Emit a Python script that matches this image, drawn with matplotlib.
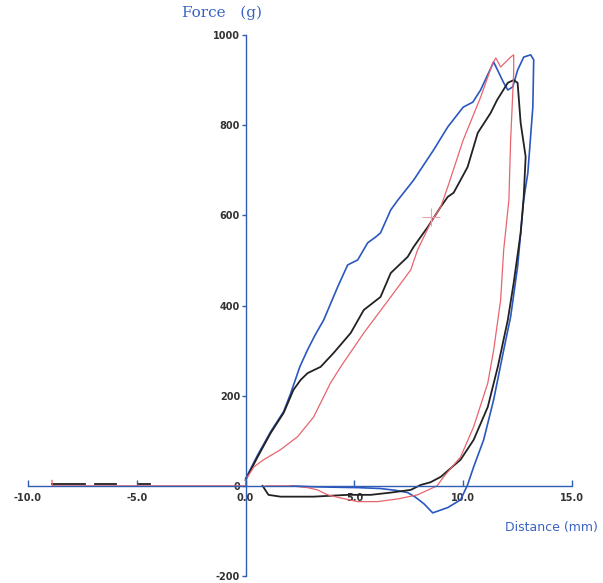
import numpy as np
import matplotlib
matplotlib.use("Agg")
import matplotlib.pyplot as plt

# Force (g) vs distance (mm), three compression cycles
blue_x = [0.0, 0.55, 1.15, 1.75, 2.07, 2.5, 2.85, 3.2, 3.59, 4.23, 4.69, 5.15, 5.61, 5.98, 6.2,
          6.67, 7.0, 7.72, 8.64, 9.29, 10.0, 10.44, 10.8, 11.4, 11.86, 12.05, 12.28, 12.5, 12.78,
          13.1, 13.24, 13.2, 12.97, 12.78, 12.5, 12.18, 11.86, 11.4, 10.94, 10.48, 10.2, 9.88,
          9.3, 8.6, 8.2, 7.8, 7.45, 6.9, 6.2, 5.2, 4.0, 3.0, 2.07]
blue_f = [16, 68, 120, 165, 205, 265, 302, 335, 368, 441, 490, 501, 539, 552, 561,
          612, 634, 678, 745, 796, 840, 851, 878, 940, 894, 878, 885, 922, 951,
          956, 945, 840, 694, 634, 486, 375, 301, 191, 102, 42, 2, -31,
          -48, -60, -40, -25, -15, -10, -6, -4, -3, -2, 0]

black_x = [0.0, 0.55, 1.15, 1.75, 2.2, 2.53, 2.85, 3.45, 4.05, 4.83, 5.43, 6.2, 6.67, 7.45,
           7.72, 8.37, 8.97, 9.29, 9.56, 10.2, 10.67, 11.26, 11.56, 12.05, 12.32, 12.5, 12.64,
           12.87, 12.78, 12.64, 12.32, 12.05, 11.59, 11.13, 10.48, 9.88, 8.97, 8.5, 8.05, 7.59,
           6.67, 5.75, 4.69, 3.13, 1.6, 1.05, 0.78]
black_f = [13, 64, 117, 162, 213, 235, 250, 264, 295, 339, 390, 419, 472, 508,
           530, 574, 619, 641, 650, 707, 783, 827, 856, 894, 900, 894, 805,
           730, 640, 561, 450, 368, 264, 175, 102, 58, 20, 8, 2, -9,
           -15, -20, -20, -24, -24, -20, 0]

# short pre-test bits on the negative side
black_pre_x = [-8.9, -7.4, np.nan, -6.9, -5.95, np.nan, -4.9, -4.4]
black_pre_f = [4, 4, np.nan, 4, 4, np.nan, 4, 4]

red_x = [-8.9, -8.88, 0.0, 0.0, 0.38, 0.83, 1.6, 2.39, 3.13, 3.9, 4.37, 5.43, 6.67, 7.59, 7.9,
         8.5, 8.97, 9.29, 10.0, 10.8, 11.36, 11.5, 11.72, 12.18, 12.32, 12.32, 12.18, 12.1,
         11.86, 11.72, 11.4, 11.13, 10.48, 9.88, 9.1, 8.8, 7.9, 7.0, 6.07, 5.15, 4.37, 3.77,
         3.3, 2.85, 2.07, 0.9]
red_f = [12, 0, 0, 13, 42, 58, 80, 109, 153, 228, 264, 339, 419, 479, 523,
         583, 619, 663, 767, 862, 938, 949, 929, 951, 956, 916, 767, 634,
         523, 412, 301, 228, 131, 64, 20, 0, -20, -29, -35, -35, -27, -20,
         -9, -4, 0, 0]

cross_x, cross_f = [8.5], [597]

xticks = [-10, -5, 0, 5, 10, 15]
xtick_labels = ["-10.0", "-5.0", "0.0", "5.0", "10.0", "15.0"]
yticks = [-200, 0, 200, 400, 600, 800, 1000]

axis_blue = "#2f5cb5"
fig = plt.figure(figsize=(6.03, 5.83), dpi=100)
ax = fig.add_axes([28 / 603, 7 / 583, 544 / 603, 541 / 583])

ax.plot(blue_x, blue_f, color="#2a57c0", lw=1.2)
ax.plot(black_x, black_f, color="#222222", lw=1.3)
ax.plot(black_pre_x, black_pre_f, color="#222222", lw=1.3)
ax.plot(red_x, red_f, color="#e8646e", lw=0.9)
ax.plot(cross_x, cross_f, marker="+", ms=13, mew=0.8, color="#f0a0b4", ls="none")

ax.set_xlim(-10, 15)
ax.set_ylim(-200, 1000)
ax.spines["left"].set_position(("data", 0))
ax.spines["bottom"].set_position(("data", 0))
ax.spines["top"].set_visible(False)
ax.spines["right"].set_visible(False)
for s in ("left", "bottom"):
    ax.spines[s].set_color(axis_blue)
    ax.spines[s].set_linewidth(1.0)

ax.set_xticks(xticks)
ax.set_xticklabels(xtick_labels)
ax.set_yticks(yticks)
ax.set_yticklabels([str(v) for v in yticks])
ax.tick_params(axis="x", direction="in", length=4, width=1.0, color=axis_blue, pad=5)
ax.tick_params(axis="y", direction="out", length=3, width=1.0, color=axis_blue, pad=1)
for lab in ax.get_xticklabels() + ax.get_yticklabels():
    lab.set_fontsize(7)
    lab.set_fontweight("bold")
    lab.set_color("#333333")
ax.patch.set_alpha(0)

fig.text(182 / 603, 1 - 13 / 583, "Force   (g)", color="#3a62c4", fontsize=11,
         family="DejaVu Serif", ha="left", va="center")
fig.text(505 / 603, 1 - 528 / 583, "Distance (mm)", color="#3a62c4", fontsize=9,
         family="DejaVu Sans", ha="left", va="center")

fig.savefig("out.png", dpi=100)
